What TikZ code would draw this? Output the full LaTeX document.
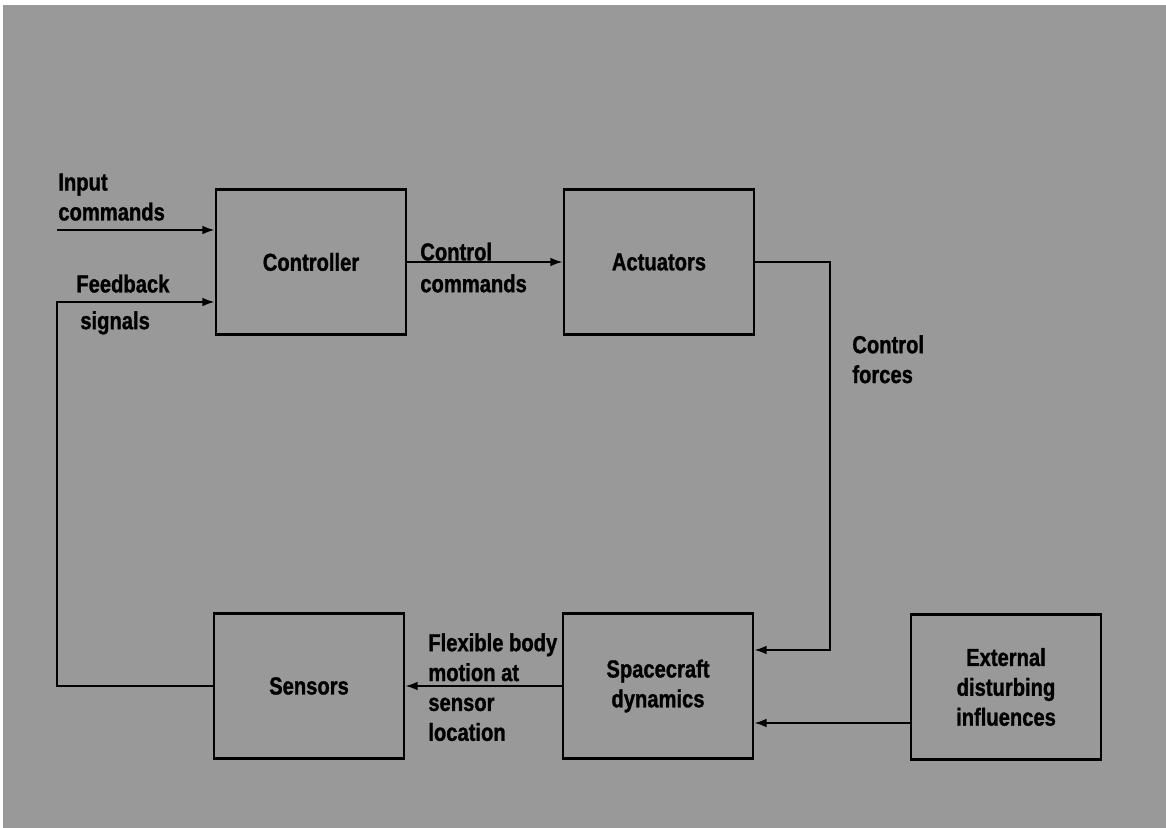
\documentclass[tikz,border=0pt]{standalone}
\usepackage{fontspec}
\setmainfont[FakeStretch=0.82, FakeBold=1.2]{Liberation Sans}
\usetikzlibrary{arrows.meta}
\usetikzlibrary{positioning}
\definecolor{halftone}{rgb}{0.6, 0.6, 0.6}
\tikzset{block/.style = {draw, line width=1.6pt, minimum width=3.8cm, minimum height=2.9cm,
                         align=center, font=\fontsize{14}{17}\selectfont\bfseries},
         lbl/.style = {inner sep=0pt, align=left, font=\fontsize{14}{17}\selectfont\bfseries},
         sig/.style = {-{Latex[length=7pt, width=5pt]}, line width=1.1pt}}
\begin{document}
\begin{tikzpicture}[x=0.02cm, y=-0.02cm]
    \useasboundingbox (0, 0) rectangle (1166, 828);
    \fill [halftone] (3, 5) rectangle (1166, 828);

    \node [block] (ctrl) at (311, 262) {Controller};
    \node [block] (act) at (659, 262) {Actuators};
    \node [block] (sens) at (309, 686) {Sensors};
    \node [block] (sc) at (658, 686) {Spacecraft\\dynamics};
    \node [block] (ext) at (1006, 687) {External\\disturbing\\influences};

    \coordinate (in) at (57, 230);
    \coordinate (fb) at (57, 302);
    \coordinate (fc) at (830, 650);

    \draw [sig] (in) -- (in -| ctrl.west);
    \draw [sig] (sens.west) -| (fb) -- (fb -| ctrl.west);
    \draw [sig] (ctrl.east) -- (act.west);
    \draw [sig] (act.east) -| (fc) -- (fc -| sc.east);
    \draw [sig] (sc.west) -- (sens.east);
    \draw [sig] ([yshift=-0.72cm]ext.west) -- ([yshift=-0.72cm]ext.west -| sc.east);

    \node [lbl, anchor=south west] (inlbl) at (58, 221) {Input\\commands};
    \node [lbl, anchor=south west] (fblbl) at (76, 293) {Feedback};
    \node [lbl, anchor=north west] (siglbl) at (80, 311) {signals};
    \node [lbl, anchor=south west] (cclbl) at (420, 261) {Control};
    \node [lbl, anchor=north west] (cclbl2) at (420, 274) {commands};
    \node [lbl, anchor=north west] (cflbl) at (852, 335) {Control\\forces};
    \node [lbl, anchor=north west] (fxlbl) at (428, 633) {Flexible body\\motion at\\sensor\\location};
\end{tikzpicture}
\end{document}
